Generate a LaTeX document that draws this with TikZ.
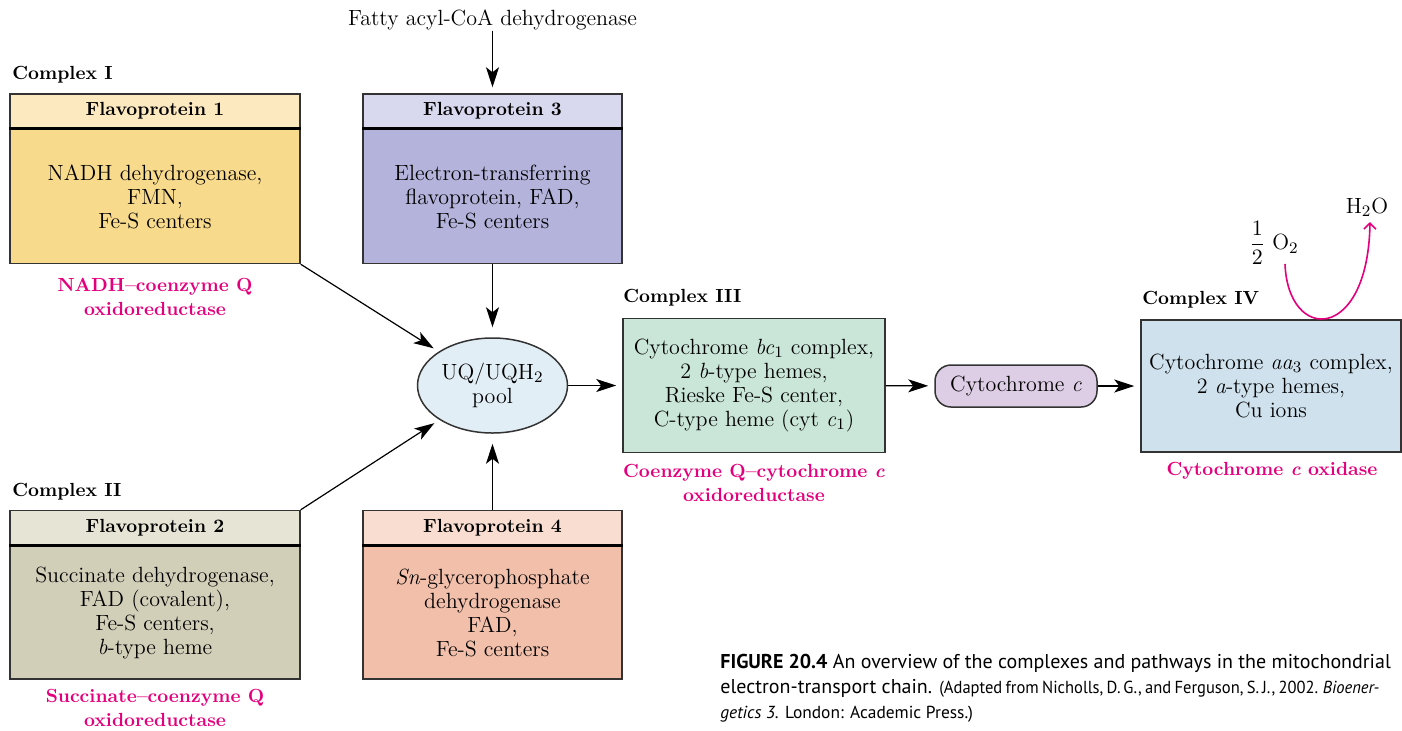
\documentclass[tikz,border=0pt]{standalone}
\usepackage{amsmath}
\usepackage{fontspec}
\newfontfamily\capfont{PT Sans}
\newfontfamily\captight[FakeStretch=0.95,WordSpace=0.75]{PT Sans}
\usetikzlibrary{arrows.meta,positioning,shapes.geometric}

\definecolor{boxline}{HTML}{333333}
\definecolor{enzpink}{HTML}{E4007C}
\definecolor{fponehead}{HTML}{FDE9C0}
\definecolor{fponebody}{HTML}{F8DA8C}
\definecolor{fptwohead}{HTML}{E6E4D5}
\definecolor{fptwobody}{HTML}{D2CFB9}
\definecolor{fpthreehead}{HTML}{D8D8EE}
\definecolor{fpthreebody}{HTML}{B3B3DB}
\definecolor{fpfourhead}{HTML}{F9DDD0}
\definecolor{fpfourbody}{HTML}{F1BFAA}
\definecolor{poolfill}{HTML}{E2EEF5}
\definecolor{cthreefill}{HTML}{C9E6D8}
\definecolor{cytcfill}{HTML}{DDCDE5}
\definecolor{cfourfill}{HTML}{CEE1ED}

\begin{document}
\begin{tikzpicture}[x=0.5pt, y=-0.5pt,
  box/.style={draw=boxline, line width=0.75pt, inner sep=0pt, align=center, font=\fontsize{11}{12}\selectfont},
  hdr/.style={box, minimum height=17pt, font=\fontsize{9.5}{11}\selectfont\bfseries},
  cplx/.style={anchor=west, inner sep=0pt, font=\fontsize{9.5}{11}\selectfont\bfseries},
  enz/.style={text=enzpink, align=center, inner sep=0pt, font=\fontsize{9.5}{12}\selectfont\bfseries},
  plain/.style={inner sep=0pt, font=\fontsize{11}{12}\selectfont},
  flow/.style={-{Stealth[length=10pt,width=6.5pt,inset=2.5pt]}, line width=0.6pt, shorten >=3pt},
  oxy/.style={-{Straight Barb[length=3pt,width=6pt]}, draw=enzpink, line width=0.8pt},
  sepline/.style={line width=1.3pt}
]
\useasboundingbox (0,0) rectangle (1402,730);

% Complex I
\node[cplx] (c1lbl) at (12,75) {Complex I};
\node[hdr, fill=fponehead, minimum width=145pt] (fp1h) at (155,111) {Flavoprotein 1};
\node[box, fill=fponebody, minimum width=145pt, minimum height=67pt, below=0pt of fp1h] (fp1) {NADH dehydrogenase,\\FMN,\\Fe-S centers};
\draw[sepline] (fp1h.south west) -- (fp1h.south east);
\node[enz] (fp1name) at (155,297) {NADH--coenzyme Q\\oxidoreductase};

% Flavoprotein 3
\node[plain] (fatty) at (492.5,20) {Fatty acyl-CoA dehydrogenase};
\node[hdr, fill=fpthreehead, minimum width=129.5pt] (fp3h) at (492.5,111) {Flavoprotein 3};
\node[box, fill=fpthreebody, minimum width=129.5pt, minimum height=67pt, below=0pt of fp3h] (fp3) {Electron-transferring\\flavoprotein, FAD,\\Fe-S centers};
\draw[sepline] (fp3h.south west) -- (fp3h.south east);

% Complex II
\node[cplx] (c2lbl) at (12,492) {Complex II};
\node[hdr, fill=fptwohead, minimum width=145pt] (fp2h) at (155,527.5) {Flavoprotein 2};
\node[box, fill=fptwobody, minimum width=145pt, minimum height=66.5pt, below=0pt of fp2h] (fp2) {Succinate dehydrogenase,\\FAD (covalent),\\Fe-S centers,\\\textit{b}-type heme};
\draw[sepline] (fp2h.south west) -- (fp2h.south east);
\node[enz] (fp2name) at (155,708) {Succinate--coenzyme Q\\oxidoreductase};

% Flavoprotein 4
\node[hdr, fill=fpfourhead, minimum width=129.5pt] (fp4h) at (492.5,527.5) {Flavoprotein 4};
\node[box, fill=fpfourbody, minimum width=129.5pt, minimum height=66.5pt, below=0pt of fp4h] (fp4) {\textit{Sn}-glycerophosphate\\dehydrogenase\\FAD,\\Fe-S centers};
\draw[sepline] (fp4h.south west) -- (fp4h.south east);

% UQ pool
\node[box, ellipse, fill=poolfill, minimum width=75pt, minimum height=47.5pt] (pool) at (492.5,385.5) {UQ/UQH$_2$\\pool};

% Complex III
\node[cplx] (c3lbl) at (623,298) {Complex III};
\node[box, fill=cthreefill, minimum width=131pt, minimum height=67pt] (c3) at (754,385.5) {Cytochrome \textit{bc}$_1$ complex,\\2 \textit{b}-type hemes,\\Rieske Fe-S center,\\C-type heme (cyt \textit{c}$_1$)};
\node[enz] (c3name) at (754,483) {Coenzyme Q--cytochrome \textit{c}\\oxidoreductase};

% cytochrome c
\node[box, fill=cytcfill, minimum width=81pt, minimum height=21pt, rounded corners=8pt] (cytc) at (1016,386) {Cytochrome \textit{c}};

% Complex IV
\node[cplx] (c4lbl) at (1142,300) {Complex IV};
\node[box, fill=cfourfill, minimum width=130pt, minimum height=66pt] (c4) at (1271,386) {Cytochrome \textit{aa}$_3$ complex,\\2 \textit{a}-type hemes,\\Cu ions};
\node[enz] (c4name) at (1272,471) {Cytochrome \textit{c} oxidase};

% oxygen to water
\node[plain] (o2) at (1274,243) {{\fontsize{10.5}{11}\selectfont$\dfrac{1}{2}$} O$_2$};
\node[plain] (h2o) at (1367,207) {H$_2$O};
\coordinate (o2in) at (1285,264);
\coordinate (h2oout) at (1370,222);
\draw[oxy] (o2in) .. controls (1288,343) and (1368,343) .. (h2oout);

% arrows
\draw[flow] (fatty) -- (fp3h);
\draw[flow, shorten >=5pt] (fp3) -- (pool);
\draw[flow] (fp1.south east) -- (pool);
\draw[flow] (fp2h.north east) -- (pool);
\draw[flow, shorten >=5pt] (fp4h) -- (pool);
\draw[flow] (pool) -- (c3);
\draw[flow] (c3) -- (cytc);
\draw[flow] (cytc) -- (c4);

% caption
\node[anchor=north west, align=left, inner sep=0pt, font=\capfont\fontsize{10}{12.5}\selectfont] (caption) at (720,654)
  {{\bfseries FIGURE 20.4} An overview of the complexes and pathways in the mitochondrial\\
   electron-transport chain. {\captight\fontsize{8.7}{12.5}\selectfont(Adapted from Nicholls, D.\,G., and Ferguson, S.\,J., 2002. \textit{Bioener-}}\\
   {\fontsize{8.7}{12.5}\selectfont\textit{getics 3.} London: Academic Press.)}};
\end{tikzpicture}
\end{document}
